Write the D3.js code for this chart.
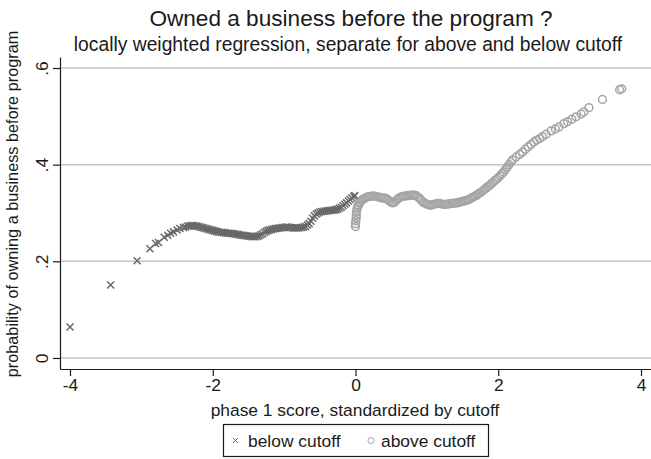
<!DOCTYPE html>
<meta charset="utf-8">
<style>
body { margin: 0; background: #fff; }
svg { font-family: "Liberation Sans", Arial, sans-serif; }
.grid line { stroke: #c6c6c6; stroke-width: 1.5px; }
.axis path, .axis line { stroke: #1a1a1a; stroke-width: 1.2px; }
.axis text { font-size: 17.4px; fill: #1a1a1a; }
.below { stroke: #686868; stroke-width: 1.5px; fill: none; }
.above { stroke: #a5a5a5; stroke-width: 1.5px; fill: none; }
</style>
<svg width="651" height="459"></svg>
<script src="https://d3js.org/d3.v7.min.js"></script>
<script>

// below cutoff (x marks)
var belowX = [-4.00, -3.43, -3.06, -2.88, -2.80, -2.76, -2.68, -2.63, -2.59, -2.55, -2.50, -2.46, -2.41, -2.38,
  -2.350, -2.325, -2.300, -2.275, -2.250, -2.225, -2.200, -2.175, -2.150, -2.125, -2.100, -2.075, -2.050, -2.025,
  -2.000, -1.975, -1.950, -1.925, -1.900, -1.875, -1.850, -1.825, -1.800, -1.775, -1.750, -1.725, -1.700, -1.675,
  -1.650, -1.625, -1.600, -1.575, -1.550, -1.525, -1.500, -1.475, -1.450, -1.425, -1.400, -1.375, -1.350, -1.325,
  -1.300, -1.275, -1.250, -1.225, -1.200, -1.175, -1.150, -1.125, -1.100, -1.075, -1.050, -1.025, -1.000, -0.975,
  -0.950, -0.925, -0.900, -0.875, -0.850, -0.825, -0.800, -0.775, -0.750, -0.725, -0.700, -0.675, -0.650, -0.625,
  -0.600, -0.575, -0.550, -0.525, -0.500, -0.475, -0.450, -0.425, -0.400, -0.375, -0.350, -0.325, -0.300, -0.275,
  -0.250, -0.225, -0.200, -0.175, -0.150, -0.125, -0.100, -0.075, -0.050, -0.025, -0.010];
var belowY = [0.064, 0.151, 0.201, 0.226, 0.237, 0.239, 0.250, 0.254, 0.258, 0.261, 0.265, 0.268, 0.270, 0.271,
  0.273, 0.273, 0.274, 0.274, 0.273, 0.273, 0.272, 0.271, 0.270, 0.269, 0.268, 0.267, 0.266, 0.265,
  0.264, 0.263, 0.262, 0.261, 0.260, 0.260, 0.259, 0.259, 0.258, 0.258, 0.258, 0.257, 0.257, 0.256,
  0.256, 0.255, 0.254, 0.254, 0.253, 0.253, 0.252, 0.252, 0.251, 0.251, 0.251, 0.252, 0.253, 0.255,
  0.257, 0.260, 0.262, 0.264, 0.265, 0.266, 0.267, 0.268, 0.268, 0.269, 0.269, 0.270, 0.270, 0.271,
  0.271, 0.270, 0.270, 0.269, 0.269, 0.269, 0.269, 0.270, 0.270, 0.271, 0.272, 0.275, 0.278, 0.283,
  0.289, 0.294, 0.298, 0.300, 0.302, 0.303, 0.303, 0.304, 0.304, 0.305, 0.305, 0.306, 0.306, 0.307,
  0.308, 0.310, 0.312, 0.315, 0.318, 0.321, 0.325, 0.328, 0.331, 0.334, 0.336];

// above cutoff (hollow circles)
var aboveX = [0.000, 0.000, 0.005, 0.010, 0.010, 0.015, 0.020, 0.030, 0.040, 0.055, 0.070, 0.085,
  0.100, 0.125, 0.150, 0.175, 0.200, 0.225, 0.250, 0.275, 0.300, 0.325, 0.350, 0.375, 0.400, 0.425,
  0.450, 0.475, 0.500, 0.525, 0.550, 0.575, 0.600, 0.625, 0.650, 0.675, 0.700, 0.725, 0.750, 0.775,
  0.800, 0.825, 0.850, 0.875, 0.900, 0.925, 0.950, 0.975, 1.000, 1.025, 1.050, 1.075, 1.100, 1.125,
  1.150, 1.175, 1.200, 1.225, 1.250, 1.275, 1.300, 1.325, 1.350, 1.375, 1.400, 1.425, 1.450, 1.475,
  1.500, 1.525, 1.550, 1.575, 1.600, 1.625, 1.650, 1.675, 1.700, 1.725, 1.750, 1.775, 1.800, 1.825,
  1.850, 1.875, 1.900, 1.925, 1.950, 1.975, 2.000, 2.025, 2.050, 2.075, 2.100, 2.125, 2.150, 2.175,
  2.200, 2.25, 2.30, 2.34, 2.38, 2.42, 2.46, 2.50, 2.54, 2.58, 2.62, 2.67, 2.74, 2.80, 2.85, 2.92,
  2.97, 3.03, 3.09, 3.16, 3.20, 3.27, 3.46, 3.70, 3.73];
var aboveY = [0.272, 0.278, 0.284, 0.290, 0.296, 0.302, 0.308, 0.313, 0.316, 0.320, 0.323, 0.326,
  0.328, 0.330, 0.332, 0.334, 0.334, 0.335, 0.335, 0.335, 0.334, 0.333, 0.332, 0.331, 0.331, 0.330,
  0.328, 0.325, 0.322, 0.321, 0.323, 0.327, 0.330, 0.332, 0.334, 0.335, 0.335, 0.336, 0.336, 0.337,
  0.337, 0.337, 0.336, 0.333, 0.330, 0.326, 0.322, 0.320, 0.318, 0.317, 0.316, 0.317, 0.318, 0.319,
  0.320, 0.320, 0.319, 0.318, 0.318, 0.318, 0.319, 0.319, 0.320, 0.320, 0.321, 0.321, 0.322, 0.323,
  0.324, 0.325, 0.326, 0.327, 0.329, 0.331, 0.333, 0.335, 0.337, 0.340, 0.342, 0.345, 0.348, 0.351,
  0.354, 0.357, 0.360, 0.363, 0.367, 0.370, 0.373, 0.377, 0.381, 0.385, 0.390, 0.395, 0.400, 0.405,
  0.410, 0.416, 0.421, 0.426, 0.432, 0.437, 0.442, 0.447, 0.451, 0.454, 0.458, 0.463, 0.470, 0.474, 0.478, 0.485,
  0.489, 0.494, 0.499, 0.505, 0.509, 0.518, 0.535, 0.555, 0.557];

var xTicks = [-4, -2, 0, 2, 4];
var yTicks = [0, 0.2, 0.4, 0.6];
var yTickLabels = ["0", ".2", ".4", ".6"];

var svg = d3.select("svg");

var x = d3.scaleLinear().domain([-4.14, 4.14]).range([60, 651]),
    y = d3.scaleLinear().domain([-0.0228, 0.6228]).range([369, 57]);

// gridlines
svg.append("g").attr("class", "grid")
  .selectAll("line").data(yTicks).enter().append("line")
    .attr("x1", x(-4.14)).attr("x2", x(4.14))
    .attr("y1", function(d) { return y(d); })
    .attr("y2", function(d) { return y(d); });

// x axis
svg.append("g")
    .attr("class", "axis")
    .attr("transform", "translate(0," + y(-0.0228) + ")")
    .call(d3.axisBottom(x).tickValues(xTicks).tickSize(7).tickSizeOuter(0).tickPadding(3)
      .tickFormat(function(d) { return String(d); }));

// y axis
var yAxis = svg.append("g")
    .attr("class", "axis")
    .attr("transform", "translate(" + x(-4.14) + ",0)")
    .call(d3.axisLeft(y).tickValues(yTicks).tickSize(7).tickSizeOuter(0)
      .tickFormat(function(d, i) { return yTickLabels[i]; }));
yAxis.selectAll(".tick text")
    .attr("x", 0).attr("dy", null)
    .attr("text-anchor", "middle")
    .attr("transform", "translate(-12,0) rotate(-90)");

// below cutoff markers
var xs = 3.5;
svg.append("g").selectAll("path")
    .data(belowX.map(function(d, i) { return [d, belowY[i]]; }))
  .enter().append("path")
    .attr("class", "below")
    .attr("d", function(d) {
      var cx = x(d[0]), cy = y(d[1]);
      return "M" + (cx - xs) + "," + (cy - xs) + "L" + (cx + xs) + "," + (cy + xs) +
             "M" + (cx - xs) + "," + (cy + xs) + "L" + (cx + xs) + "," + (cy - xs);
    });

// above cutoff markers
svg.append("g").selectAll("circle")
    .data(aboveX.map(function(d, i) { return [d, aboveY[i]]; }))
  .enter().append("circle")
    .attr("class", "above")
    .attr("r", 3.9)
    .attr("cx", function(d) { return x(d[0]); })
    .attr("cy", function(d) { return y(d[1]); });

// titles
svg.append("text").attr("x", 351).attr("y", 26).attr("text-anchor", "middle")
    .style("font-size", "22.6px").attr("fill", "#1a1a1a")
    .text("Owned a business before the program ?");
svg.append("text").attr("x", 348).attr("y", 51).attr("text-anchor", "middle")
    .style("font-size", "19.3px").attr("fill", "#1a1a1a")
    .text("locally weighted regression, separate for above and below cutoff");
svg.append("text").attr("x", 355).attr("y", 416).attr("text-anchor", "middle")
    .style("font-size", "17.4px").attr("fill", "#1a1a1a")
    .text("phase 1 score, standardized by cutoff");
svg.append("text").attr("transform", "translate(18,204) rotate(-90)").attr("text-anchor", "middle")
    .style("font-size", "16.3px").attr("fill", "#1a1a1a")
    .text("probability of owning a business before program");

// legend
var lg = svg.append("g");
lg.append("rect").attr("x", 223.5).attr("y", 424.5).attr("width", 265).attr("height", 32)
    .attr("fill", "#fff").attr("stroke", "#1a1a1a").attr("stroke-width", 1.2);
lg.append("path").attr("class", "below").style("stroke-width", "1px")
    .attr("d", "M233,438L238,443M233,443L238,438");
lg.append("text").attr("x", 248).attr("y", 447).style("font-size", "17.4px").attr("fill", "#1a1a1a")
    .text("below cutoff");
lg.append("circle").attr("class", "above").style("stroke-width", "1px")
    .attr("cx", 371).attr("cy", 440.5).attr("r", 3);
lg.append("text").attr("x", 381).attr("y", 447).style("font-size", "17.4px").attr("fill", "#1a1a1a")
    .text("above cutoff");

</script>
